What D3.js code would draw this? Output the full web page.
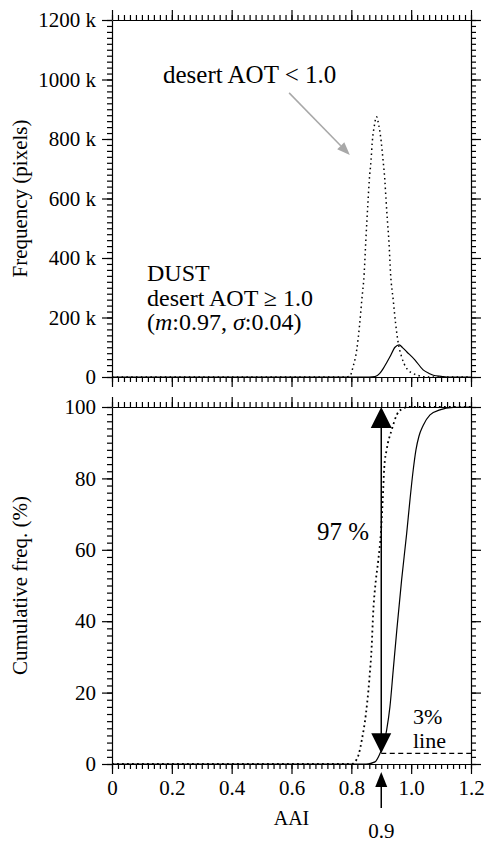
<!DOCTYPE html>
<html>
<head>
<meta charset="utf-8">
<script src="https://cdn.jsdelivr.net/npm/d3@7"></script>
<style>
  body { margin: 0; background: #fff; }
  svg { display: block; }
  svg text { font-family: "Liberation Serif", "Tinos", "Times New Roman", Times, "DejaVu Serif", serif; fill: #000; }
  .axis path, .axis line { stroke: #000; stroke-width: 1.2; }
  .axis text { font-size: 21px; }
</style>
</head>
<body>
<svg width="488" height="842"></svg>
<script>
// frequency (k pixels) vs AAI
var freqLow = [[0,0],[0.78,0],[0.795,3],[0.806,35],[0.818,91],[0.827,169],[0.835,259],[0.843,349],
  [0.848,450],[0.856,595],[0.860,662],[0.866,729],[0.870,790],[0.877,845],[0.884,875],[0.892,845],
  [0.900,790],[0.906,729],[0.912,662],[0.916,595],[0.921,520],[0.926,450],[0.931,349],[0.940,259],
  [0.948,180],[0.957,113],[0.968,68],[0.985,29],[1.018,7],[1.056,0],[1.2,0]];
var freqDust = [[0,0],[0.86,0],[0.879,1],[0.895,12],[0.907,29],[0.918,48],[0.929,68],[0.946,100],
  [0.960,108],[0.972,98],[0.985,85],[1.013,57],[1.040,24],[1.060,12],[1.074,6],[1.10,2],[1.12,0],[1.2,0]];

// cumulative frequency (%) vs AAI
var cumLow = [[0,0],[0.79,0],[0.801,0],[0.812,0.6],[0.824,2.5],[0.835,6.7],[0.849,14.2],[0.860,23.5],
  [0.868,32.9],[0.873,42.3],[0.882,51.5],[0.890,57],[0.899,65],[0.905,74],[0.910,83],[0.918,88],
  [0.935,93.6],[0.952,97.8],[0.968,99.4],[0.99,100],[1.2,100]];
var cumDust = [[0,0],[0.85,0],[0.879,0.6],[0.896,3],[0.907,5.3],[0.918,9.5],[0.929,16],[0.940,26.3],
  [0.952,37.5],[0.968,51.5],[0.985,64.6],[0.996,74],[1.007,82.5],[1.016,88],[1.026,91.8],
  [1.040,94.8],[1.063,97.8],[1.096,99.2],[1.141,99.9],[1.2,100]];

var xTicks = [0, 0.2, 0.4, 0.6, 0.8, 1.0, 1.2];
var freqTicks = [0, 200, 400, 600, 800, 1000, 1200];
var cumTicks = [0, 20, 40, 60, 80, 100];
var threshold = 0.9;
var linePct = 3;

var svg = d3.select("svg");
var left = 112, right = 471;

var x = d3.scaleLinear([0, 1.2], [left, right]);
var yF = d3.scaleLinear([0, 1200], [377, 20]);
var yC = d3.scaleLinear([0, 100], [764, 407]);

var xMinor = d3.range(0, 1.2001, 0.02);
var fMinor = d3.range(0, 1200.1, 20);
var cMinor = d3.range(0, 100.1, 2);

function fmtX(d) { return d === 0 ? "0" : d3.format(".1f")(d); }
function fmtF(d) { return d === 0 ? "0" : d + " k"; }

// draws a box of four axes with major+minor outward ticks
function frame(y, yMajor, yMinorVals, yFmt, showX) {
  var top = y.range()[1], bot = y.range()[0];
  var sides = [
    { ax: d3.axisLeft(y), tr: "translate(" + left + ",0)", major: yMajor, minor: yMinorVals, fmt: yFmt },
    { ax: d3.axisRight(y), tr: "translate(" + right + ",0)", major: yMajor, minor: yMinorVals, fmt: null },
    { ax: d3.axisTop(x), tr: "translate(0," + top + ")", major: xTicks, minor: xMinor, fmt: null },
    { ax: d3.axisBottom(x), tr: "translate(0," + bot + ")", major: xTicks, minor: xMinor, fmt: showX ? fmtX : null }
  ];
  sides.forEach(function (s) {
    var g = svg.append("g").attr("class", "axis").attr("transform", s.tr);
    g.call(s.ax.tickValues(s.minor).tickSize(5).tickSizeOuter(0).tickFormat(""));
    g.append("g").call(s.ax.tickValues(s.major).tickSize(10).tickPadding(6)
      .tickFormat(s.fmt ? s.fmt : function () { return ""; }));
    g.selectAll("g > g > path.domain").remove();
    g.attr("font-family", null).selectAll("g").attr("font-family", null);
  });
}

frame(yF, freqTicks, fMinor, fmtF, false);
frame(yC, cumTicks, cMinor, function (d) { return d; }, true);

var lineF = d3.line().x(function (d) { return x(d[0]); }).y(function (d) { return yF(d[1]); }).curve(d3.curveMonotoneX);
var lineC = d3.line().x(function (d) { return x(d[0]); }).y(function (d) { return yC(d[1]); }).curve(d3.curveMonotoneX);

svg.append("path").attr("d", lineF(freqLow)).attr("fill", "none").attr("stroke", "#000")
  .attr("stroke-width", 1.5).attr("stroke-dasharray", "1.5,3.3");
svg.append("path").attr("d", lineF(freqDust)).attr("fill", "none").attr("stroke", "#000").attr("stroke-width", 1.2);
svg.append("path").attr("d", lineC(cumLow)).attr("fill", "none").attr("stroke", "#000")
  .attr("stroke-width", 1.8).attr("stroke-dasharray", "1.8,3.2");
svg.append("path").attr("d", lineC(cumDust)).attr("fill", "none").attr("stroke", "#000").attr("stroke-width", 1.2);

// text annotations
function txt(px, py, str, size) {
  return svg.append("text").attr("x", px).attr("y", py).attr("font-size", size || 24).text(str);
}
txt(163, 83, "desert AOT < 1.0", 25);
txt(147, 281, "DUST");
txt(147, 306, "desert AOT \u2265 1.0");
var t3 = svg.append("text").attr("x", 147).attr("y", 330).attr("font-size", 24);
t3.append("tspan").text("(");
t3.append("tspan").attr("font-style", "italic").text("m");
t3.append("tspan").text(":0.97, ");
t3.append("tspan").attr("font-style", "italic").text("\u03c3");
t3.append("tspan").text(":0.04)");

// gray arrow to the low-AOT peak
var gx0 = x(0.592), gy0 = yF(955), gx1 = x(0.795), gy1 = yF(746);
var ang = Math.atan2(gy1 - gy0, gx1 - gx0), hl = 13, hw = 5;
var bx = gx1 - hl * Math.cos(ang), by = gy1 - hl * Math.sin(ang);
svg.append("line").attr("x1", gx0).attr("y1", gy0).attr("x2", bx).attr("y2", by)
  .attr("stroke", "#a8a8a8").attr("stroke-width", 1.5);
svg.append("path").attr("fill", "#a8a8a8").attr("d",
  "M" + gx1 + "," + gy1 +
  "L" + (bx + hw * Math.sin(ang)) + "," + (by - hw * Math.cos(ang)) +
  "L" + (bx - hw * Math.sin(ang)) + "," + (by + hw * Math.cos(ang)) + "Z");

// 97 % double arrow at threshold
var ax = x(threshold), yTop = yC(100), yLow = yC(linePct);
svg.append("line").attr("x1", ax).attr("x2", ax).attr("y1", yTop + 15).attr("y2", yLow - 15)
  .attr("stroke", "#000").attr("stroke-width", 1.5);
svg.append("path").attr("d", "M" + ax + "," + yTop + "L" + (ax - 10.5) + "," + (yTop + 21) + "L" + (ax + 10.5) + "," + (yTop + 21) + "Z");
svg.append("path").attr("d", "M" + ax + "," + yLow + "L" + (ax - 10) + "," + (yLow - 20) + "L" + (ax + 10) + "," + (yLow - 20) + "Z");
txt(317, 540, "97 %", 25);

// 3% line
svg.append("line").attr("x1", ax).attr("x2", right).attr("y1", yLow).attr("y2", yLow)
  .attr("stroke", "#000").attr("stroke-width", 1.2).attr("stroke-dasharray", "5,3.5");
txt(413, 724, "3%", 22);
txt(413, 748, "line", 22);

// arrow below the axis pointing at 0.9
svg.append("line").attr("x1", ax).attr("x2", ax).attr("y1", 784).attr("y2", 808)
  .attr("stroke", "#000").attr("stroke-width", 1.5);
svg.append("path").attr("d", "M" + ax + ",772L" + (ax - 6) + ",787L" + (ax + 6) + ",787Z");
svg.append("text").attr("x", ax).attr("y", 838).attr("text-anchor", "middle").attr("font-size", 21).text("0.9");

// axis titles
svg.append("text").attr("x", (left + right) / 2).attr("y", 825).attr("text-anchor", "middle")
  .attr("font-size", 20).text("AAI");
svg.append("text").attr("transform", "translate(27," + (yF.range()[0] + yF.range()[1]) / 2 + ") rotate(-90)")
  .attr("text-anchor", "middle").attr("font-size", 21).text("Frequency (pixels)");
svg.append("text").attr("transform", "translate(27," + (yC.range()[0] + yC.range()[1]) / 2 + ") rotate(-90)")
  .attr("text-anchor", "middle").attr("font-size", 21).text("Cumulative freq. (%)");
</script>
</body>
</html>
